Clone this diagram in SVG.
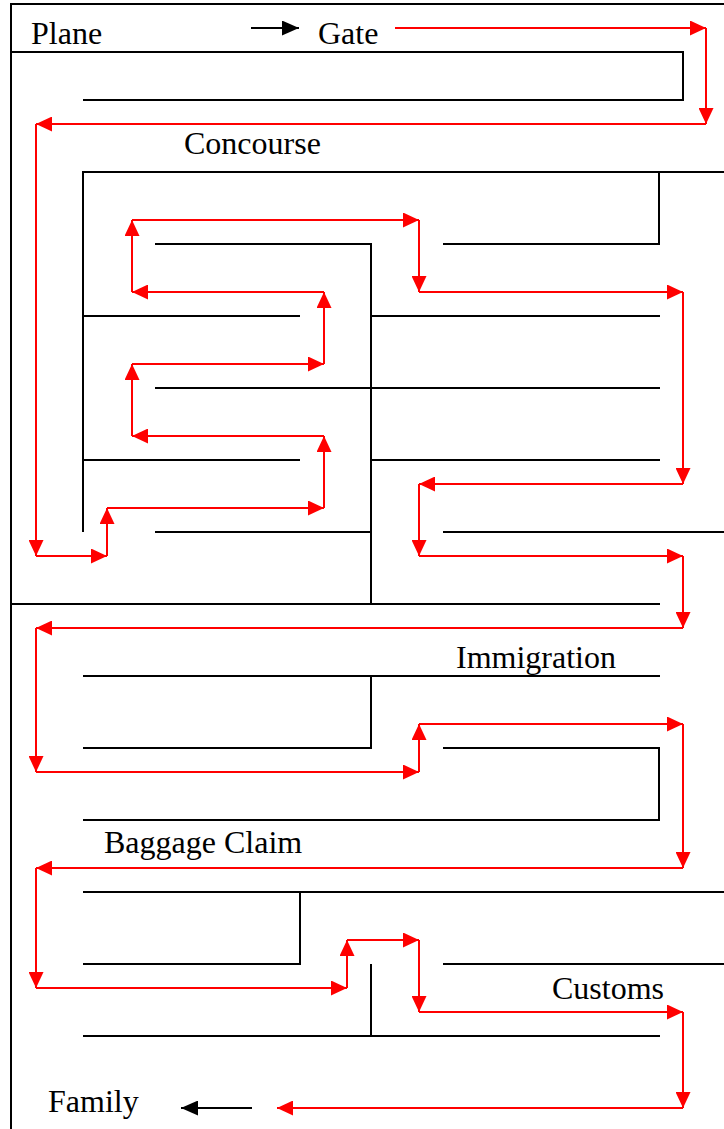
<svg xmlns="http://www.w3.org/2000/svg" width="724" height="1129" viewBox="0 0 724 1129">
<style>
.w{stroke:#000;stroke-width:2;fill:none}
.r{stroke:#ff0000;stroke-width:2;fill:none;marker-end:url(#ra)}
.k{stroke:#000;stroke-width:2;fill:none;marker-end:url(#ka)}
text{font-family:"Liberation Serif","Times New Roman",serif;font-size:32px;fill:#000}
</style>
<defs>
<marker id="ra" markerUnits="userSpaceOnUse" markerWidth="16" markerHeight="15" refX="16" refY="7.5" orient="auto"><path d="M0,0 L16,7.5 L0,15 z" fill="#ff0000"/></marker>
<marker id="ka" markerUnits="userSpaceOnUse" markerWidth="17" markerHeight="15" refX="17" refY="7.5" orient="auto"><path d="M0,0 L17,7.5 L0,15 z" fill="#000"/></marker>
</defs>
<rect width="724" height="1129" fill="#fff"/>
<g id="walls" class="w">
<path d="M11,1129 V4 H724"/>
<path d="M11,52 H683 V100 H83"/>
<path d="M724,172 H83 V532"/>
<path d="M659,172 V244 H443"/>
<path d="M155,244 H371 V604"/>
<path d="M83,316 H300 M371,316 H660"/>
<path d="M155,388 H660"/>
<path d="M83,460 H300 M371,460 H660"/>
<path d="M155,532 H371 M443,532 H724"/>
<path d="M11,604 H660"/>
<path d="M83,676 H660 M371,676 V748 H83"/>
<path d="M443,748 H659 V820 H83"/>
<path d="M83,892 H724 M300,892 V964 H83"/>
<path d="M443,964 H724"/>
<path d="M371,964 V1036 M83,1036 H660"/>
</g>
<g id="label-plane"><text x="31" y="44">Plane</text></g>
<g id="label-gate"><text x="318" y="44">Gate</text></g>
<g id="label-concourse"><text x="184" y="154">Concourse</text></g>
<g id="label-immigration"><text x="456" y="668">Immigration</text></g>
<g id="label-baggage"><text x="104" y="853">Baggage Claim</text></g>
<g id="label-customs"><text x="552" y="999">Customs</text></g>
<g id="label-family"><text x="48" y="1112">Family</text></g>
<g id="connectors">
<line class="k" x1="251" y1="28" x2="299" y2="28"/>
<line class="k" x1="252" y1="1108" x2="181" y2="1108"/>
<line class="r" x1="395" y1="28" x2="706" y2="28"/>
<line class="r" x1="706" y1="28" x2="706" y2="124"/>
<line class="r" x1="706" y1="124" x2="36" y2="124"/>
<line class="r" x1="36" y1="124" x2="36" y2="556"/>
<line class="r" x1="36" y1="556" x2="107" y2="556"/>
<line class="r" x1="107" y1="556" x2="107" y2="508"/>
<line class="r" x1="107" y1="508" x2="324" y2="508"/>
<line class="r" x1="324" y1="508" x2="324" y2="436"/>
<line class="r" x1="324" y1="436" x2="132" y2="436"/>
<line class="r" x1="132" y1="436" x2="132" y2="364"/>
<line class="r" x1="132" y1="364" x2="324" y2="364"/>
<line class="r" x1="324" y1="364" x2="324" y2="292"/>
<line class="r" x1="324" y1="292" x2="132" y2="292"/>
<line class="r" x1="132" y1="292" x2="132" y2="220"/>
<line class="r" x1="132" y1="220" x2="419" y2="220"/>
<line class="r" x1="419" y1="220" x2="419" y2="292"/>
<line class="r" x1="419" y1="292" x2="683" y2="292"/>
<line class="r" x1="683" y1="292" x2="683" y2="484"/>
<line class="r" x1="683" y1="484" x2="419" y2="484"/>
<line class="r" x1="419" y1="484" x2="419" y2="556"/>
<line class="r" x1="419" y1="556" x2="683" y2="556"/>
<line class="r" x1="683" y1="556" x2="683" y2="628"/>
<line class="r" x1="683" y1="628" x2="36" y2="628"/>
<line class="r" x1="36" y1="628" x2="36" y2="772"/>
<line class="r" x1="36" y1="772" x2="419" y2="772"/>
<line class="r" x1="419" y1="772" x2="419" y2="724"/>
<line class="r" x1="419" y1="724" x2="683" y2="724"/>
<line class="r" x1="683" y1="724" x2="683" y2="868"/>
<line class="r" x1="683" y1="868" x2="36" y2="868"/>
<line class="r" x1="36" y1="868" x2="36" y2="988"/>
<line class="r" x1="36" y1="988" x2="347" y2="988"/>
<line class="r" x1="347" y1="988" x2="347" y2="940"/>
<line class="r" x1="347" y1="940" x2="419" y2="940"/>
<line class="r" x1="419" y1="940" x2="419" y2="1012"/>
<line class="r" x1="419" y1="1012" x2="683" y2="1012"/>
<line class="r" x1="683" y1="1012" x2="683" y2="1108"/>
<line class="r" x1="683" y1="1108" x2="277" y2="1108"/>
</g>
</svg>
